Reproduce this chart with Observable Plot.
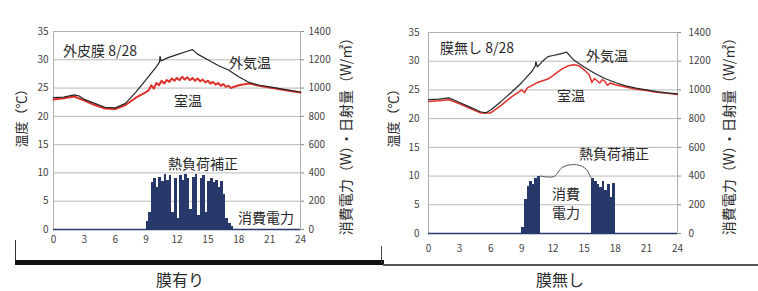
<!DOCTYPE html>
<html><head><meta charset="utf-8">
<script src="https://cdn.jsdelivr.net/npm/d3@7"></script>
<script src="https://cdn.jsdelivr.net/npm/@observablehq/plot@0.6"></script>
<style>
body{margin:0;background:#fff;font-family:"Noto Sans CJK JP","Noto Sans",sans-serif;}
#root{position:relative;width:758px;height:291px;overflow:hidden;background:#fff;}
.p{position:absolute;top:0;}
.t{position:absolute;white-space:nowrap;line-height:1;color:#2a2a2a;}
.ln{position:absolute;}
</style></head>
<body><div id="root"></div>
<script>
// ---- data ----
const hourTicks = [0,3,6,9,12,15,18,21,24];
const tempTicks = [0,5,10,15,20,25,30,35];
const powerTicks = [0,200,400,600,800,1000,1200,1400];
const W_PER_DEG = 40; // 1400 W/m2 <-> 35 C

// 膜有り (with membrane)
const outdoorA = [[0,23.3],[1,23.4],[2,23.8],[2.5,23.6],[3,23.0],[4,22.3],[5,21.6],[6,21.5],[7,22.3],[8,24.3],[9,26.5],[10,28.8],[10.3,29.6],[10.35,30.6],[10.45,29.8],[11,30.3],[12,30.9],[13,31.5],[13.5,31.8],[14,31.0],[15,30.0],[16,29.0],[17,28.2],[18,27.0],[19,26.0],[20,25.5],[21,25.2],[22,24.9],[23,24.6],[24,24.3]];
const roomA = [[0,23.0],[1,23.2],[2,23.5],[3,22.8],[4,22.0],[5,21.4],[6,21.3],[7,22.0],[8,23.3],[9,24.3],[9.25,24.6],[9.5,25.5],[9.75,24.9],[10,25.9],[10.25,25.5],[10.5,26.3],[10.75,25.8],[11,26.4],[11.25,26.1],[11.5,26.7],[11.75,26.3],[12,26.8],[12.25,26.4],[12.5,27.0],[12.75,26.5],[13,26.9],[13.25,26.4],[13.5,26.8],[13.75,26.3],[14,26.7],[14.25,26.2],[14.5,26.5],[14.75,26.0],[15,26.3],[15.25,25.8],[15.5,26.1],[15.75,25.6],[16,25.9],[16.25,25.4],[16.5,25.7],[16.75,25.2],[17,25.4],[17.25,25.0],[17.5,25.2],[18,25.5],[19,25.8],[20,25.4],[21,25.1],[22,24.8],[23,24.5],[24,24.2]];
const powerA = [[9.0,60],[9.25,120],[9.5,330],[9.75,360],[10.0,300],[10.25,370],[10.5,340],[10.75,390],[11.0,350],[11.25,380],[11.5,120],[11.75,360],[12.0,80],[12.25,380],[12.5,350],[12.75,390],[13.0,360],[13.25,140],[13.5,370],[13.75,390],[14.0,100],[14.25,360],[14.5,380],[14.75,120],[15.0,340],[15.25,360],[15.5,330],[15.75,350],[16.0,300],[16.25,340],[16.5,250],[16.75,80],[17.0,40],[17.25,20]];

// 膜無し (without membrane)
const outdoorB = [[0,23.3],[1,23.4],[2,23.6],[3,22.8],[4,22.0],[5,21.2],[5.5,21.0],[6,21.5],[7,23.0],[8,24.6],[9,26.3],[9.5,27.3],[10,28.3],[10.3,29.2],[10.35,29.9],[10.5,29.0],[11,30.0],[11.5,30.8],[12,31.0],[12.5,31.2],[13,31.4],[13.3,31.6],[13.7,30.8],[14,30.2],[15,29.0],[16,27.9],[17,27.0],[18,26.3],[19,25.7],[20,25.3],[21,25.0],[22,24.7],[23,24.5],[24,24.3]];
const roomB = [[0,23.0],[1,23.1],[2,23.3],[3,22.6],[4,21.8],[5,21.0],[6,21.0],[7,22.3],[8,23.8],[9,25.0],[9.25,24.5],[9.5,25.3],[10,25.8],[10.5,26.3],[11,26.6],[11.5,26.9],[12,27.5],[12.5,28.2],[13,28.8],[13.5,29.2],[14,29.4],[14.5,29.2],[15,28.5],[15.5,27.6],[15.75,26.3],[16,27.0],[16.5,26.2],[16.75,26.8],[17,26.5],[17.25,25.8],[17.5,26.2],[18,25.9],[19,25.5],[20,25.1],[21,24.9],[22,24.6],[23,24.4],[24,24.2]];
const powerB = [[9.0,40],[9.25,240],[9.5,330],[9.75,360],[10.0,340],[10.25,380],[10.5,400],[15.75,380],[16.0,360],[16.25,340],[16.5,320],[16.75,360],[17.0,300],[17.25,340],[17.5,250],[17.75,350]];
const loadCorrB = [[10.8,400],[11.5,392],[12.2,392],[12.5,430],[12.8,458],[13.3,476],[14.0,482],[14.6,476],[15.1,458],[15.4,430],[15.6,392],[15.8,380]];

// ---- drawing ----
const root = document.getElementById("root");
const pts = a => a.map(([t,v]) => ({t, v}));
const NAVY = "#27386b";

function panel({outdoor, room, power, corr, width, ml, mr, mt, mb, xPad, lPad, rPad, roomWidth}) {
  const marks = [
    Plot.gridY(tempTicks, {stroke:"#b8b8b8", strokeOpacity:1}),
    Plot.frame({stroke:"#b0b0b0"}),
    Plot.rectY(pts(power), {x1:"t", x2: d => d.t + 0.25, y: d => d.v / W_PER_DEG, fill: NAVY, shapeRendering: "crispEdges"}),
    Plot.ruleY([0], {stroke: NAVY, strokeWidth: 1.6}),
  ];
  if (corr) marks.push(Plot.line(pts(corr), {x:"t", y: d => d.v / W_PER_DEG, stroke:"#555", strokeWidth:1, curve:"basis"}));
  marks.push(
    Plot.line(pts(room), {x:"t", y:"v", stroke:"#e0302a", strokeWidth: roomWidth}),
    Plot.line(pts(outdoor), {x:"t", y:"v", stroke:"#262626", strokeWidth:1.2}),
    Plot.axisY(tempTicks, {anchor:"left", tickSize:0, tickPadding:lPad, fontSize:10, fill:"#444"}),
    Plot.axisY(powerTicks.map(w => w / W_PER_DEG), {anchor:"right", tickSize:3, tickPadding:rPad, stroke:"#888", fontSize:10, fill:"#444", tickFormat: d => String(Math.round(d * W_PER_DEG))}),
    Plot.axisX(hourTicks, {anchor:"bottom", tickSize:0, tickPadding:xPad, fontSize:10, fill:"#444"})
  );
  return Plot.plot({
    width, height: 260, marginLeft: ml, marginRight: mr, marginTop: mt, marginBottom: mb,
    style: {fontFamily: '"Noto Sans CJK JP", sans-serif', background: "transparent"},
    x: {domain: [0, 24], label: null},
    y: {domain: [0, 35], label: null},
    marks
  });
}

const pA = panel({outdoor: outdoorA, room: roomA, power: powerA, width: 380, ml: 53, mr: 80, mt: 31, mb: 31, xPad: 6, lPad: 5, rPad: 5, roomWidth: 2});
pA.classList.add("p"); pA.style.left = "0px"; root.appendChild(pA);
const pB = panel({outdoor: outdoorB, room: roomB, power: powerB, corr: loadCorrB, width: 378, ml: 48, mr: 81, mt: 32, mb: 27, xPad: 11, lPad: 9, rPad: 8, roomWidth: 1.5});
pB.classList.add("p"); pB.style.left = "380px"; root.appendChild(pB);

function txt(s, x, y, size, rot, extra) {
  const d = document.createElement("div");
  d.className = "t";
  d.textContent = s;
  d.style.left = x + "px"; d.style.top = y + "px"; d.style.fontSize = size + "px";
  d.style.transform = "translate(-50%,-50%)" + (rot ? ` rotate(${rot}deg)` : "");
  if (extra) Object.assign(d.style, extra);
  root.appendChild(d);
}
function box(x, y, w, h, c) {
  const d = document.createElement("div");
  d.className = "ln";
  Object.assign(d.style, {left: x+"px", top: y+"px", width: w+"px", height: h+"px", background: c});
  root.appendChild(d);
}

// left panel texts
txt("外皮膜 8/28", 100, 50, 14);
txt("外気温", 250, 62, 14);
txt("室温", 188, 100, 14);
txt("熱負荷補正", 203, 163, 14);
txt("消費電力", 266, 217, 14);
txt("温度（℃）", 20, 115, 13, -90);
txt("消費電力（W）・日射量（W/㎡）", 345, 133, 14, -90);
// right panel texts
txt("膜無し 8/28", 477, 47, 14);
txt("外気温", 607, 55, 14);
txt("室温", 571, 95, 14);
txt("熱負荷補正", 614, 153, 14);
txt("消費", 566, 193, 14);
txt("電力", 566, 212, 14);
txt("温度（℃）", 392, 115, 13, -90);
txt("消費電力（W）・日射量（W/㎡）", 728, 133, 14, -90);
// captions
txt("膜有り", 180, 279, 16);
txt("膜無し", 560, 279, 16);
// separators
box(15, 240, 1, 22, "#333");
box(15, 260, 369, 5, "#111");
box(381, 246, 1, 17, "#444");
box(383, 264, 375, 1.5, "#555");
</script></body></html>
